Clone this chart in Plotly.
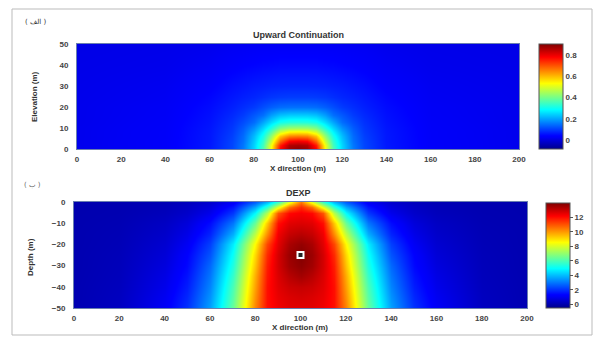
import plotly.graph_objects as go

# ---------------- data ----------------
# Upward continuation field, x positions and elevations
uc_x = [0, 40, 60, 70, 75, 80, 84, 88, 92, 96, 100, 104, 108, 112, 116, 120, 125, 130, 140, 160, 200]
uc_y = [0, 2, 4, 6, 8, 10, 13, 16, 20, 25, 30, 40, 50]
uc_z = [
    [0.02, 0.035, 0.065, 0.11, 0.16, 0.25, 0.36, 0.53, 0.78, 0.87, 0.89, 0.87, 0.78, 0.53, 0.36, 0.25, 0.16, 0.11, 0.065, 0.035, 0.02],
    [0.02, 0.035, 0.065, 0.109, 0.157, 0.247, 0.35, 0.52, 0.75, 0.85, 0.86, 0.85, 0.75, 0.52, 0.35, 0.247, 0.157, 0.109, 0.065, 0.035, 0.02],
    [0.02, 0.035, 0.064, 0.107, 0.15, 0.238, 0.334, 0.48, 0.676, 0.776, 0.79, 0.776, 0.676, 0.48, 0.334, 0.238, 0.15, 0.107, 0.064, 0.035, 0.02],
    [0.02, 0.034, 0.064, 0.103, 0.145, 0.224, 0.309, 0.428, 0.589, 0.652, 0.66, 0.652, 0.589, 0.428, 0.309, 0.224, 0.145, 0.103, 0.064, 0.034, 0.02],
    [0.02, 0.034, 0.063, 0.099, 0.138, 0.206, 0.282, 0.377, 0.494, 0.544, 0.55, 0.544, 0.494, 0.377, 0.282, 0.206, 0.138, 0.099, 0.063, 0.034, 0.02],
    [0.02, 0.033, 0.062, 0.095, 0.13, 0.183, 0.25, 0.319, 0.407, 0.436, 0.44, 0.436, 0.407, 0.319, 0.25, 0.183, 0.13, 0.095, 0.062, 0.033, 0.02],
    [0.019, 0.032, 0.059, 0.089, 0.115, 0.147, 0.202, 0.254, 0.303, 0.318, 0.32, 0.318, 0.303, 0.254, 0.202, 0.147, 0.115, 0.089, 0.059, 0.032, 0.019],
    [0.019, 0.03, 0.056, 0.081, 0.099, 0.127, 0.15, 0.194, 0.228, 0.239, 0.24, 0.239, 0.228, 0.194, 0.15, 0.127, 0.099, 0.081, 0.056, 0.03, 0.019],
    [0.019, 0.029, 0.052, 0.072, 0.085, 0.098, 0.117, 0.133, 0.146, 0.15, 0.15, 0.15, 0.146, 0.133, 0.117, 0.098, 0.085, 0.072, 0.052, 0.029, 0.019],
    [0.018, 0.026, 0.046, 0.063, 0.071, 0.078, 0.086, 0.093, 0.098, 0.10, 0.10, 0.10, 0.098, 0.093, 0.086, 0.078, 0.071, 0.063, 0.046, 0.026, 0.018],
    [0.017, 0.024, 0.039, 0.054, 0.06, 0.066, 0.069, 0.072, 0.074, 0.075, 0.075, 0.075, 0.074, 0.072, 0.069, 0.066, 0.06, 0.054, 0.039, 0.024, 0.017],
    [0.015, 0.019, 0.028, 0.037, 0.041, 0.044, 0.047, 0.048, 0.05, 0.05, 0.05, 0.05, 0.05, 0.048, 0.047, 0.044, 0.041, 0.037, 0.028, 0.019, 0.015],
    [0.013, 0.016, 0.02, 0.025, 0.026, 0.028, 0.029, 0.029, 0.03, 0.03, 0.03, 0.03, 0.03, 0.029, 0.029, 0.028, 0.026, 0.025, 0.02, 0.016, 0.013],
]

# DEXP field
dx_x = [0, 20, 40, 50, 60, 70, 80, 85, 90, 95, 100, 105, 110, 115, 120, 130, 140, 150, 160, 180, 200]
dx_y = [0, -2.5, -5, -10, -15, -20, -25, -30, -35, -40, -45, -50]
dx_z = [
    [0.02, 0.05, 0.12, 0.25, 0.5, 1.1, 2.6, 3.9, 5.7, 8.2, 10.5, 8.2, 5.7, 3.9, 2.6, 1.1, 0.5, 0.25, 0.12, 0.05, 0.02],
    [0.025, 0.06, 0.17, 0.35, 0.72, 1.6, 3.7, 5.6, 8.2, 10.6, 11.6, 10.6, 8.2, 5.6, 3.7, 1.6, 0.72, 0.35, 0.17, 0.06, 0.025],
    [0.03, 0.07, 0.22, 0.45, 0.95, 2.1, 4.9, 7.5, 11.0, 12.1, 12.3, 12.1, 11.0, 7.5, 4.9, 2.1, 0.95, 0.45, 0.22, 0.07, 0.03],
    [0.04, 0.1, 0.35, 0.7, 1.45, 3.0, 6.4, 9.3, 12.0, 12.6, 12.7, 12.6, 12.0, 9.3, 6.4, 3.0, 1.45, 0.7, 0.35, 0.1, 0.04],
    [0.05, 0.13, 0.45, 0.9, 1.8, 3.8, 7.6, 10.2, 12.4, 13.0, 13.2, 13.0, 12.4, 10.2, 7.6, 3.8, 1.8, 0.9, 0.45, 0.13, 0.05],
    [0.05, 0.15, 0.55, 1.1, 2.2, 4.7, 8.6, 11.2, 12.6, 13.4, 13.7, 13.4, 12.6, 11.2, 8.6, 4.7, 2.2, 1.1, 0.55, 0.15, 0.05],
    [0.06, 0.18, 0.65, 1.3, 2.5, 5.1, 9.1, 11.6, 12.8, 13.6, 13.95, 13.6, 12.8, 11.6, 9.1, 5.1, 2.5, 1.3, 0.65, 0.18, 0.06],
    [0.06, 0.2, 0.75, 1.4, 2.8, 5.4, 9.4, 11.8, 12.8, 13.5, 13.8, 13.5, 12.8, 11.8, 9.4, 5.4, 2.8, 1.4, 0.75, 0.2, 0.06],
    [0.07, 0.22, 0.85, 1.55, 3.0, 5.7, 9.7, 11.9, 12.7, 13.2, 13.5, 13.2, 12.7, 11.9, 9.7, 5.7, 3.0, 1.55, 0.85, 0.22, 0.07],
    [0.08, 0.25, 0.95, 1.7, 3.2, 6.0, 9.9, 12.0, 12.6, 12.9, 13.0, 12.9, 12.6, 12.0, 9.9, 6.0, 3.2, 1.7, 0.95, 0.25, 0.08],
    [0.08, 0.28, 1.05, 1.85, 3.4, 6.2, 10.1, 12.0, 12.5, 12.7, 12.8, 12.7, 12.5, 12.0, 10.1, 6.2, 3.4, 1.85, 1.05, 0.28, 0.08],
    [0.09, 0.3, 1.15, 2.0, 3.6, 6.4, 10.3, 12.0, 12.4, 12.6, 12.6, 12.6, 12.4, 12.0, 10.3, 6.4, 3.6, 2.0, 1.15, 0.3, 0.09],
]

source_x = [100]
source_y = [-25]

x_ticks = [0, 20, 40, 60, 80, 100, 120, 140, 160, 180, 200]
uc_yticks = [0, 10, 20, 30, 40, 50]
dx_yticks = [0, -10, -20, -30, -40, -50]
uc_cticks = [0, 0.2, 0.4, 0.6, 0.8]
dx_cticks = [0, 2, 4, 6, 8, 10, 12]

# ---------------- style ----------------
W, H = 603, 338
jet = [
    [0.0, "rgb(0,0,140)"],
    [0.11, "rgb(0,0,245)"],
    [0.125, "rgb(0,0,255)"],
    [0.375, "rgb(0,255,255)"],
    [0.625, "rgb(255,255,0)"],
    [0.875, "rgb(255,0,0)"],
    [1.0, "rgb(128,0,0)"],
]
FONT = "Liberation Sans"
tickfont = dict(family=FONT, size=8, color="#444", weight="bold")


def px(x):
    return x / W


def py(y):
    return 1 - y / H


fig = go.Figure()

fig.add_trace(go.Heatmap(
    x=uc_x, y=uc_y, z=uc_z, colorscale=jet, zmin=-0.08, zmax=0.9,
    zsmooth="best", xaxis="x", yaxis="y",
    colorbar=dict(
        x=px(539), xanchor="left", y=py(149), yanchor="bottom",
        len=105 / H, lenmode="fraction", thickness=24, thicknessmode="pixels",
        outlinewidth=1, outlinecolor="#555", tickvals=uc_cticks,
        ticktext=["0", "0.2", "0.4", "0.6", "0.8"], tickfont=tickfont,
        ticks="", xpad=0, ypad=0,
    ),
))

fig.add_trace(go.Heatmap(
    x=dx_x, y=dx_y, z=dx_z, colorscale=jet, zmin=-0.5, zmax=14.0,
    zsmooth="best", xaxis="x2", yaxis="y2",
    colorbar=dict(
        x=px(546), xanchor="left", y=py(308), yanchor="bottom",
        len=105 / H, lenmode="fraction", thickness=24, thicknessmode="pixels",
        outlinewidth=1, outlinecolor="#555", tickvals=dx_cticks,
        tickfont=tickfont, ticks="outside", ticklen=3, tickcolor="#555",
        xpad=0, ypad=0,
    ),
))

fig.add_trace(go.Scatter(
    x=source_x, y=source_y, mode="markers", xaxis="x2", yaxis="y2",
    marker=dict(symbol="square", size=6, color="#222",
                line=dict(color="white", width=2)),
    showlegend=False, hoverinfo="skip",
))

axis_common = dict(showgrid=False, zeroline=False, tickfont=tickfont,
                   showline=True, linecolor="#6a7fb0", linewidth=1, mirror=True,
                   ticks="", fixedrange=True)

fig.update_layout(
    width=W, height=H,
    margin=dict(l=0, r=0, t=0, b=0, autoexpand=False),
    paper_bgcolor="white", plot_bgcolor="white",
    showlegend=False,
    xaxis=dict(domain=[px(77), px(519)], range=[0, 200], tickvals=x_ticks,
               anchor="y", ticklabelstandoff=2, **axis_common),
    yaxis=dict(domain=[py(149), py(44)], range=[0, 50], tickvals=uc_yticks,
               anchor="x", ticklabelstandoff=6, **axis_common),
    xaxis2=dict(domain=[px(74), px(527)], range=[0, 200], tickvals=x_ticks,
                anchor="y2", ticklabelstandoff=2, **axis_common),
    yaxis2=dict(domain=[py(308), py(202)], range=[-50, 0], tickvals=dx_yticks,
                anchor="x2", ticklabelstandoff=6, **axis_common),
)

title_font = dict(family=FONT, size=9, color="#333", weight="bold")
label_font = dict(family=FONT, size=8, color="#333", weight="bold")
ann = [
    dict(text="Upward Continuation", x=px(298), y=py(35), font=title_font),
    dict(text="DEXP", x=px(298), y=py(193), font=title_font),
    dict(text="X direction (m)", x=px(298), y=py(168), font=label_font),
    dict(text="X direction (m)", x=px(300), y=py(327), font=label_font),
    dict(text="Elevation (m)", x=px(34), y=py(97), font=label_font, textangle=-90),
    dict(text="Depth (m)", x=px(30), y=py(257), font=label_font, textangle=-90),
    dict(text="( الف )", x=px(36), y=py(22),
         font=dict(family="DejaVu Sans", size=7, color="#333")),
    dict(text="( ب )", x=px(32), y=py(185),
         font=dict(family="DejaVu Sans", size=7, color="#666")),
]
for a in ann:
    fig.add_annotation(xref="paper", yref="paper", showarrow=False,
                       xanchor="center", yanchor="middle", **a)

fig.add_shape(type="rect", xref="paper", yref="paper",
              x0=px(12), x1=px(592), y0=py(335), y1=py(9),
              line=dict(color="#bbb", width=1))

fig.write_html(
    "out.html",
    config={"displayModeBar": False},
    post_script="document.body.style.margin='0';"
                "document.documentElement.style.overflow='hidden';"
                "document.body.style.overflow='hidden';",
)
